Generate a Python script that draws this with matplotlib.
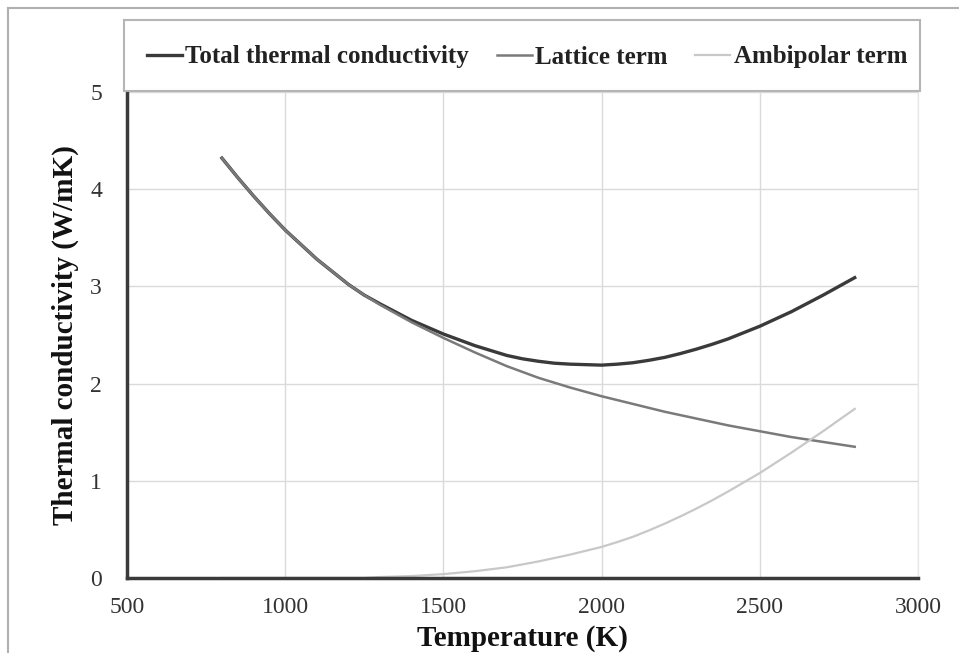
import matplotlib
matplotlib.use("Agg")
import matplotlib.pyplot as plt
from matplotlib.lines import Line2D
from matplotlib.patches import Rectangle

plt.rcParams['font.family'] = ['Liberation Serif', 'DejaVu Serif']

# temperature grid (K)
temperature = [800, 850, 900, 950, 1000, 1050, 1100, 1150, 1200, 1250, 1300,
               1350, 1400, 1450, 1500, 1550, 1600, 1650, 1700, 1750, 1800,
               1850, 1900, 1950, 2000, 2050, 2100, 2150, 2200, 2250, 2300,
               2350, 2400, 2450, 2500, 2550, 2600, 2650, 2700, 2750, 2800]

# values (W/mK)
lattice = [4.32, 4.12, 3.93, 3.75, 3.58, 3.43, 3.28, 3.15, 3.02, 2.91, 2.81,
           2.72, 2.63, 2.55, 2.47, 2.395, 2.32, 2.25, 2.18, 2.12, 2.06,
           2.01, 1.96, 1.915, 1.87, 1.83, 1.79, 1.75, 1.71, 1.675, 1.64,
           1.605, 1.57, 1.54, 1.51, 1.48, 1.45, 1.425, 1.40, 1.375, 1.35]
ambipolar = [0.0, 0.0, 0.0, 0.0, 0.0, 0.0, 0.0, 0.0, 0.0, 0.0, 0.01,
             0.015, 0.02, 0.03, 0.04, 0.055, 0.07, 0.09, 0.11, 0.14, 0.17,
             0.205, 0.24, 0.28, 0.32, 0.37, 0.425, 0.49, 0.56, 0.635, 0.715,
             0.80, 0.89, 0.985, 1.08, 1.185, 1.29, 1.40, 1.51, 1.625, 1.74]
total = [4.32, 4.12, 3.93, 3.75, 3.58, 3.43, 3.28, 3.15, 3.02, 2.91, 2.82,
         2.735, 2.65, 2.58, 2.51, 2.45, 2.39, 2.34, 2.29, 2.255, 2.23,
         2.21, 2.20, 2.195, 2.19, 2.2, 2.215, 2.24, 2.27, 2.31, 2.355,
         2.405, 2.46, 2.525, 2.59, 2.665, 2.74, 2.825, 2.91, 3.00, 3.09]

series_names = ["Total thermal conductivity", "Lattice term", "Ambipolar term"]
series_colors = ["#3a3a3a", "#7a7a7a", "#c8c8c8"]

x_ticks = [500, 1000, 1500, 2000, 2500, 3000]
y_ticks = [0, 1, 2, 3, 4, 5]

W, H = 959, 653
fig = plt.figure(figsize=(W / 100, H / 100), dpi=100)

# outer frame of the picture
fig.add_artist(Line2D([8 / W, 8 / W], [0, 1 - 8 / H], color="#b0b0b0", lw=1.5))
fig.add_artist(Line2D([8 / W, 1], [1 - 8 / H, 1 - 8 / H], color="#b0b0b0", lw=1.5))

ax = fig.add_axes([127 / W, 75 / H, 791 / W, 486 / H])

ax.plot(temperature, total, color=series_colors[0], lw=2.4, label=series_names[0])
ax.plot(temperature, lattice, color=series_colors[1], lw=1.8, label=series_names[1])
ax.plot(temperature, ambipolar, color=series_colors[2], lw=1.6, label=series_names[2])

ax.set_xlim(500, 3000)
ax.set_ylim(0, 5)
ax.set_xticks(x_ticks)
ax.set_yticks(y_ticks)
ax.grid(True, color="#dadada", lw=1)
ax.set_axisbelow(True)
ax.tick_params(length=0, labelsize=17, colors="#333333")
ax.tick_params(axis="x", pad=14)
ax.tick_params(axis="y", pad=18)

ax.spines["top"].set_visible(False)
ax.spines["right"].set_color("#e6e6e6")
ax.spines["left"].set_color("#3a3a3a")
ax.spines["left"].set_linewidth(2.5)
ax.spines["bottom"].set_color("#3a3a3a")
ax.spines["bottom"].set_linewidth(2.5)

ax.set_xlabel("Temperature (K)", fontsize=21, fontweight="bold", labelpad=5, color="#111111")
ax.set_ylabel("Thermal conductivity (W/mK)", fontsize=21, fontweight="bold", labelpad=8, color="#111111")

# legend box sitting on top of the plot area
fig.add_artist(Rectangle((124 / W, 1 - 91 / H), 796 / W, 71 / H, transform=fig.transFigure,
                         facecolor="white", edgecolor="#b5b5b5", lw=1.5))
leg = fig.legend(loc="center", ncol=3, bbox_to_anchor=(527 / W, 1 - 57 / H),
                 frameon=False, prop={"size": 18, "weight": "bold"}, handlelength=1.4,
                 handletextpad=0.15, borderaxespad=0, columnspacing=1.1)
for t in leg.get_texts():
    t.set_color("#222222")

fig.savefig("out.png", dpi=100)
